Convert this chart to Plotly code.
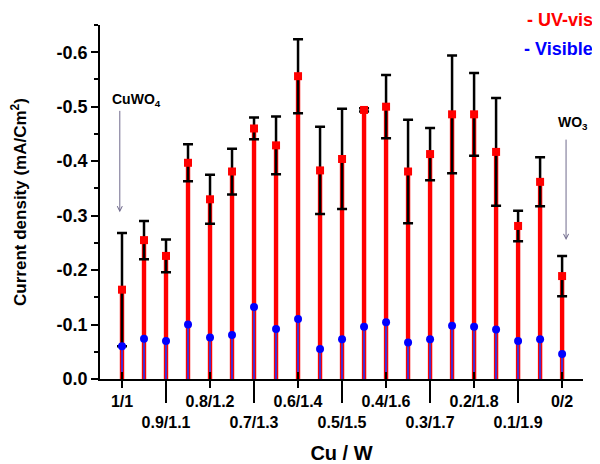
import plotly.graph_objects as go

# ---- data ----
idx = list(range(21))
uv_vis = [-0.164, -0.255, -0.226, -0.397, -0.330, -0.381, -0.460, -0.429, -0.556, -0.383, -0.404,
          -0.494, -0.500, -0.381, -0.413, -0.486, -0.486, -0.417, -0.281, -0.362, -0.189]
uv_err = [0.104, 0.035, 0.030, 0.034, 0.045, 0.042, 0.020, 0.053, 0.068, 0.080, 0.092,
          0.003, 0.058, 0.095, 0.048, 0.108, 0.076, 0.099, 0.028, 0.045, 0.037]
visible = [-0.060, -0.074, -0.070, -0.100, -0.076, -0.081, -0.132, -0.092, -0.110, -0.055, -0.073,
           -0.096, -0.104, -0.067, -0.073, -0.098, -0.096, -0.091, -0.070, -0.073, -0.046]
tick_pos = [0, 2, 4, 6, 8, 10, 12, 14, 16, 18, 20]
tick_labels = ["1/1", "0.9/1.1", "0.8/1.2", "0.7/1.3", "0.6/1.4", "0.5/1.5",
               "0.4/1.6", "0.3/1.7", "0.2/1.8", "0.1/1.9", "0/2"]
y_ticks = [0.0, -0.1, -0.2, -0.3, -0.4, -0.5, -0.6]
y_ticklabels = ["0.0", "-0.1", "-0.2", "-0.3", "-0.4", "-0.5", "-0.6"]

FONT = "Liberation Sans, Arial, sans-serif"

row1 = tick_pos[0::2]
row2 = tick_pos[1::2]
ticktext = [("<b>%s</b>" % t) if i % 2 == 0 else ("<br><b>%s</b>" % t)
            for i, t in enumerate(tick_labels)]

fig = go.Figure()
fig.add_trace(go.Bar(x=idx, y=uv_vis, width=0.2, marker=dict(color="#ff0000", line=dict(width=0)),
                     showlegend=False))
fig.add_trace(go.Scatter(x=idx, y=uv_vis, mode="markers",
                         marker=dict(symbol="square", size=8, color="#ff0000"),
                         error_y=dict(type="data", array=uv_err, color="black", thickness=2.5, width=5),
                         showlegend=False))
fig.add_trace(go.Bar(x=idx, y=visible, width=0.09, marker=dict(color="#4a2fc8", line=dict(width=0)),
                     showlegend=False))
fig.add_trace(go.Scatter(x=idx, y=visible, mode="markers",
                         marker=dict(symbol="circle", size=8, color="#0000ff"),
                         showlegend=False))
# invisible traces to activate helper axes for long/inside ticks
fig.add_trace(go.Scatter(x=[0], y=[0], xaxis="x2", mode="markers", marker=dict(opacity=0),
                         showlegend=False, hoverinfo="skip"))
fig.add_trace(go.Scatter(x=[0], y=[0], xaxis="x3", mode="markers", marker=dict(opacity=0),
                         showlegend=False, hoverinfo="skip"))

xr = [-1, 20.95]
fig.update_layout(
    width=592, height=456,
    margin=dict(l=92, r=17, t=17, b=85),
    plot_bgcolor="white", paper_bgcolor="white",
    barmode="overlay",
    font=dict(family=FONT, color="black"),
    xaxis=dict(range=xr, tickmode="array", tickvals=tick_pos, ticktext=ticktext, tickangle=0,
               ticks="outside", ticklen=7, tickwidth=1.5, tickcolor="black", automargin=False,
               showline=True, linecolor="black", linewidth=1.5, showgrid=False, zeroline=False,
               tickfont=dict(size=16, family=FONT),
               title=dict(text="<b>Cu / W</b>", font=dict(size=20, family=FONT), standoff=20)),
    xaxis2=dict(range=xr, overlaying="x", anchor="y", side="bottom", tickmode="array", automargin=False,
                tickvals=row2, ticktext=["" for _ in row2], ticks="outside", ticklen=23,
                tickwidth=1.5, tickcolor="black", showline=False, showgrid=False, zeroline=False),
    xaxis3=dict(range=xr, overlaying="x", anchor="y", side="bottom", tickmode="array", automargin=False,
                tickvals=row1, ticktext=["" for _ in row1], ticks="inside", ticklen=7,
                tickwidth=1.5, tickcolor="black", showline=False, showgrid=False, zeroline=False),
    yaxis=dict(range=[0, -0.65], tickmode="array", tickvals=y_ticks, automargin=False,
               ticktext=["<b>%s</b>" % t for t in y_ticklabels],
               ticks="outside", ticklen=7, tickwidth=1.5, tickcolor="black",
               minor=dict(tickvals=[-0.05, -0.15, -0.25, -0.35, -0.45, -0.55, -0.65],
                          ticks="outside", ticklen=4, tickwidth=1.5, tickcolor="black"),
               showline=True, linecolor="black", linewidth=1.5, showgrid=False, zeroline=False,
               tickfont=dict(size=18, family=FONT),
               title=dict(text="<b>Current density (mA/Cm<sup>2</sup>)</b>",
                          font=dict(size=17, family=FONT), standoff=35)),
)

fig.add_annotation(xref="paper", yref="paper", x=1.025, y=1.014, xanchor="right", yanchor="middle",
                   text="<b>- UV-vis</b>", showarrow=False, font=dict(size=18, color="#ff0000", family=FONT))
fig.add_annotation(xref="paper", yref="paper", x=1.025, y=0.932, xanchor="right", yanchor="middle",
                   text="<b>- Visible</b>", showarrow=False, font=dict(size=18, color="#0000ff", family=FONT))

ARROW = "#6f6a8c"
fig.add_annotation(x=-0.1, y=-0.306, xref="x", yref="y", ax=0, ay=-103, axref="pixel", ayref="pixel",
                   showarrow=True, arrowhead=5, arrowsize=1, arrowwidth=1, arrowcolor=ARROW, text="")
fig.add_annotation(x=0.68, y=-0.513, xref="x", yref="y", text="<b>CuWO<sub>4</sub></b>", showarrow=False,
                   font=dict(size=14, family=FONT), yanchor="middle")
fig.add_annotation(x=20.18, y=-0.255, xref="x", yref="y", ax=0, ay=-102, axref="pixel", ayref="pixel",
                   showarrow=True, arrowhead=5, arrowsize=1, arrowwidth=1, arrowcolor=ARROW, text="")
fig.add_annotation(x=20.5, y=-0.47, xref="x", yref="y", text="<b>WO<sub>3</sub></b>", showarrow=False,
                   font=dict(size=14, family=FONT), yanchor="middle")

fig.write_html("out.html")
